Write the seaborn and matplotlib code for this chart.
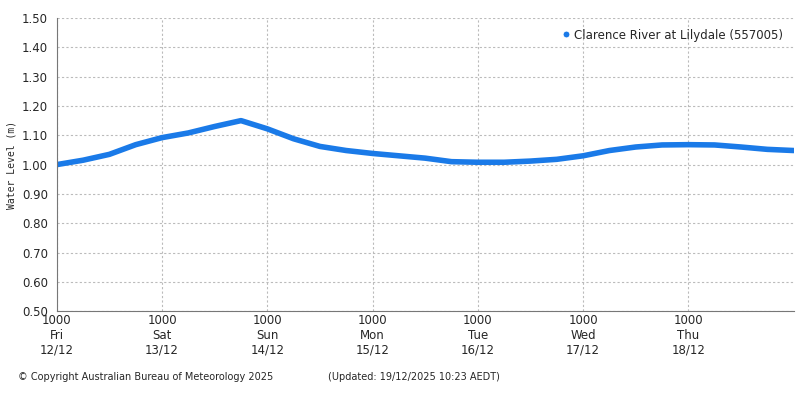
import numpy as np
import pandas as pd
import seaborn as sns
import matplotlib.pyplot as plt

# hours since Fri 12/12 10:00, 6-hourly readings
hours = list(range(0, 169, 6))
level = [1.000, 1.015, 1.035, 1.068, 1.092, 1.108, 1.130, 1.150, 1.122, 1.088,
         1.062, 1.048, 1.038, 1.030, 1.022, 1.010, 1.008, 1.008, 1.012, 1.018,
         1.030, 1.048, 1.060, 1.067, 1.068, 1.067, 1.060, 1.052, 1.048]
level = level[:len(hours)]
day_labels = ['1000\nFri\n12/12', '1000\nSat\n13/12', '1000\nSun\n14/12', '1000\nMon\n15/12',
              '1000\nTue\n16/12', '1000\nWed\n17/12', '1000\nThu\n18/12']

df = pd.DataFrame({'hours': hours, 'level': level})

sns.set_style('white')
plt.rcParams['font.family'] = ['DejaVu Sans']
fig = plt.figure(figsize=(8, 4), dpi=100)
ax = fig.add_axes([0.071, 0.222, 0.921, 0.733])
sns.lineplot(data=df, x='hours', y='level', ax=ax, color='#1a7ae8', lw=4,
             label='Clarence River at Lilydale (557005)')
ax.set_xlim(0, 168)
ax.set_ylim(0.5, 1.5)
ax.set_yticks(np.arange(0.5, 1.501, 0.1))
ax.set_yticklabels([f'{v:.2f}' for v in np.arange(0.5, 1.501, 0.1)], fontsize=8.5)
ax.set_xticks(range(0, 168, 24))
ax.set_xticklabels(day_labels, fontsize=8.5)
ax.set_xticks(range(0, 169, 6), minor=True)
ax.tick_params(axis='x', which='both', direction='in', length=3, pad=2)
ax.tick_params(axis='y', length=3)
ax.grid(True, which='major', color='#bbbbbb', ls=(0, (2, 2)), lw=0.8)
for s in ['top', 'right']:
    ax.spines[s].set_visible(False)
for s in ['left', 'bottom']:
    ax.spines[s].set_color('#777777')
ax.set_xlabel('')
ax.set_ylabel('Water Level (m)', fontsize=7, family='DejaVu Sans Mono')
leg = ax.legend(loc='upper right', frameon=False, fontsize=8.5, handlelength=0.6,
                handletextpad=0.4)
for h in leg.legend_handles:
    h.set_linestyle('none')
    h.set_marker('o')
    h.set_markersize(5)
fig.text(0.022, 0.05, '© Copyright Australian Bureau of Meteorology 2025', fontsize=7)
fig.text(0.41, 0.05, '(Updated: 19/12/2025 10:23 AEDT)', fontsize=7)
fig.savefig('out.png', dpi=100)
